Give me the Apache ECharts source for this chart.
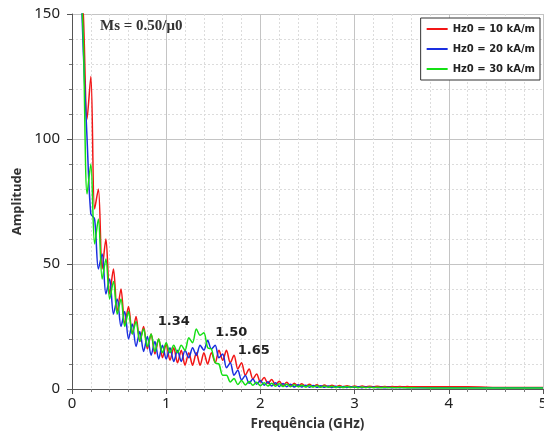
<!DOCTYPE html>
<html>
<head>
<meta charset="utf-8">
<script src="https://cdn.jsdelivr.net/npm/echarts@6/dist/echarts.min.js"></script>
<style>html,body{margin:0;padding:0;background:#fff}#c{width:544px;height:441px}</style>
</head>
<body>
<div id="c"></div>
<script>
var freq = [
0.08,0.12,0.16,0.20,0.24,0.28,0.32,0.36,0.40,0.44,
0.48,0.52,0.56,0.60,0.64,0.68,0.72,0.76,0.80,0.84,
0.88,0.92,0.96,1.00,1.04,1.08,1.12,1.16,1.20,1.24,
1.28,1.32,1.36,1.40,1.44,1.48,1.52,1.56,1.60,1.64,
1.68,1.72,1.76,1.80,1.84,1.88,1.92,1.96,2.00,2.04,
2.08,2.12,2.16,2.20,2.24,2.28,2.32,2.36,2.40,2.44,
2.48,2.52,2.56,2.60,2.64,2.68,2.72,2.76,2.80,2.84,
2.88,2.92,2.96,3.00,3.04,3.08,3.12,3.16,3.20,3.24,
3.28,3.32,3.36,3.40,3.44,3.48,3.52,3.56,3.60,3.80,
4.20,4.60,5.00];

var red10 = [
170,150,108,125,72,80,48,60,38,48,
31,40,26,33,22,29,19,25,16,22,
14,20,12.5,18,11.5,16.5,10.5,15.5,9.5,14.5,
9.5,14.5,9.5,14.5,10,14.5,10.5,15.5,11.5,15.5,
10.5,13.5,8,10.5,5.5,8,4,6,2.8,4.6,
2.2,3.8,1.7,3.1,1.4,2.7,1.2,2.3,1.1,2.1,
1.0,1.9,1.0,1.7,0.9,1.6,0.9,1.5,0.9,1.4,
0.9,1.3,0.9,1.2,0.9,1.2,0.9,1.1,0.9,1.1,
0.9,1.0,0.9,1.0,0.9,1.0,0.9,1.0,0.9,0.9,
0.9,0.6,0.6];

var blue20 = [
180,135,100,70,68,48,54,38,44,30,
36,25,31,20,26,17,23,15,21,13.5,
19,12,17.5,12,16.5,11,15.5,11,15.5,12.5,
16.5,13.5,17.5,15.5,19.5,16,17.5,12.5,14,8.5,
10.5,5.5,7.5,3.6,5.4,2.3,4,1.9,3.4,1.5,
2.9,1.2,2.5,1.0,2.2,0.9,1.9,0.8,1.7,0.8,
1.5,0.7,1.4,0.7,1.3,0.7,1.2,0.6,1.1,0.6,
1.0,0.6,0.9,0.6,0.9,0.5,0.8,0.5,0.8,0.5,
0.7,0.5,0.7,0.5,0.6,0.5,0.6,0.5,0.5,0.5,
0.5,0.5,0.5];

var green30 = [
175,140,78,90,58,68,44,52,36,43,
30,36,25,31,22,27,19,24,17,22,
15,20,14.5,18.5,14.5,17.5,14.5,17.5,15.5,20.5,
18.5,24,21.5,22.5,16.5,16,10.5,10,5.5,5.5,
2.8,4.2,1.8,3.4,1.6,3,1.5,2.7,1.3,2.5,
1.2,2.3,1.1,2.1,1.0,1.9,0.9,1.7,0.9,1.5,
0.8,1.4,0.8,1.3,0.7,1.2,0.7,1.1,0.6,1.0,
0.6,1.0,0.6,0.9,0.5,0.8,0.5,0.8,0.5,0.7,
0.5,0.7,0.5,0.6,0.5,0.6,0.5,0.5,0.5,0.4,
0.4,0.4,0.4];

var seriesNames = ['Hz0 = 10 kA/m', 'Hz0 = 20 kA/m', 'Hz0 = 30 kA/m'];
var peakLabels = ['1.65', '1.50', '1.34'];
var peakLabelAt = [[1.93, 15.2], [1.69, 22.4], [1.08, 26.8]];
var colors = ['#f21616', '#1a2fe0', '#14e014'];
var xTicks = [0, 1, 2, 3, 4, 5];
var yTicks = [0, 50, 100, 150];

function pairs(v) { return freq.map(function (f, i) { return [f, v[i]]; }); }
var allValues = [red10, blue20, green30];

var chart = echarts.init(document.getElementById('c'), null, { renderer: 'canvas' });
chart.setOption({
  animation: false,
  backgroundColor: '#fff',
  title: {
    text: 'Ms = 0.50/\u03bc0',
    left: 100, top: 19, padding: 0,
    textStyle: { fontFamily: 'Liberation Serif', fontWeight: 'bold', fontSize: 15, color: '#333' }
  },
  grid: { left: 72, right: 1, top: 14, bottom: 52, containLabel: false, outerBoundsMode: 'none' },
  legend: {
    orient: 'vertical', right: 4, top: 18,
    data: seriesNames,
    icon: 'rect', itemWidth: 21, itemHeight: 2, itemGap: 8,
    padding: [5, 5, 5, 6],
    borderColor: '#333', borderWidth: 1, backgroundColor: '#fff',
    textStyle: { fontFamily: 'DejaVu Sans', fontWeight: 'bold', fontSize: 10, color: '#222', lineHeight: 12 }
  },
  xAxis: {
    type: 'value', min: xTicks[0], max: xTicks[xTicks.length - 1], interval: 1,
    name: 'Frequ\u00eancia (GHz)', nameLocation: 'middle', nameGap: 28,
    nameTextStyle: { fontFamily: 'Noto Sans', fontWeight: 'bold', fontSize: 13.5, color: '#333' },
    axisLine: { lineStyle: { color: '#555', width: 1 } },
    axisTick: { show: true, length: 5, lineStyle: { color: '#555' } },
    minorTick: { show: true, splitNumber: 5, length: 3, lineStyle: { color: '#777' } },
    axisLabel: { fontFamily: 'Noto Sans', fontSize: 15, color: '#222', margin: 7, hideOverlap: false },
    splitLine: { show: true, lineStyle: { color: '#c4c4c4', width: 1 } },
    minorSplitLine: { show: true, lineStyle: { color: '#dcdcdc', type: [2, 2] } }
  },
  yAxis: {
    type: 'value', min: yTicks[0], max: yTicks[yTicks.length - 1], interval: 50,
    name: 'Amplitude', nameLocation: 'middle', nameGap: 46,
    nameTextStyle: { fontFamily: 'Noto Sans', fontWeight: 'bold', fontSize: 13, color: '#333' },
    axisLine: { show: true, lineStyle: { color: '#555', width: 1 } },
    axisTick: { show: true, length: 5, lineStyle: { color: '#555' } },
    minorTick: { show: true, splitNumber: 5, length: 3, lineStyle: { color: '#777' } },
    axisLabel: { fontFamily: 'Noto Sans', fontSize: 15, color: '#222', margin: 12 },
    splitLine: { show: true, lineStyle: { color: '#c4c4c4', width: 1 } },
    minorSplitLine: { show: true, lineStyle: { color: '#dcdcdc', type: [2, 2] } }
  },
  series: seriesNames.map(function (name, k) {
    return {
      name: name, type: 'line', data: pairs(allValues[k]),
      symbol: 'none', clip: true, smooth: 0.3,
      lineStyle: { color: colors[k], width: 1.5 },
      itemStyle: { color: colors[k] },
      markPoint: {
        symbol: 'circle', symbolSize: 0, silent: true,
        data: [{ coord: peakLabelAt[k], value: peakLabels[k] }],
        label: { show: true, position: 'inside', formatter: peakLabels[k],
          fontFamily: 'DejaVu Sans', fontWeight: 'bold', fontSize: 13, color: '#222' }
      },
      z: 2 + k
    };
  })
});
</script>
</body>
</html>
